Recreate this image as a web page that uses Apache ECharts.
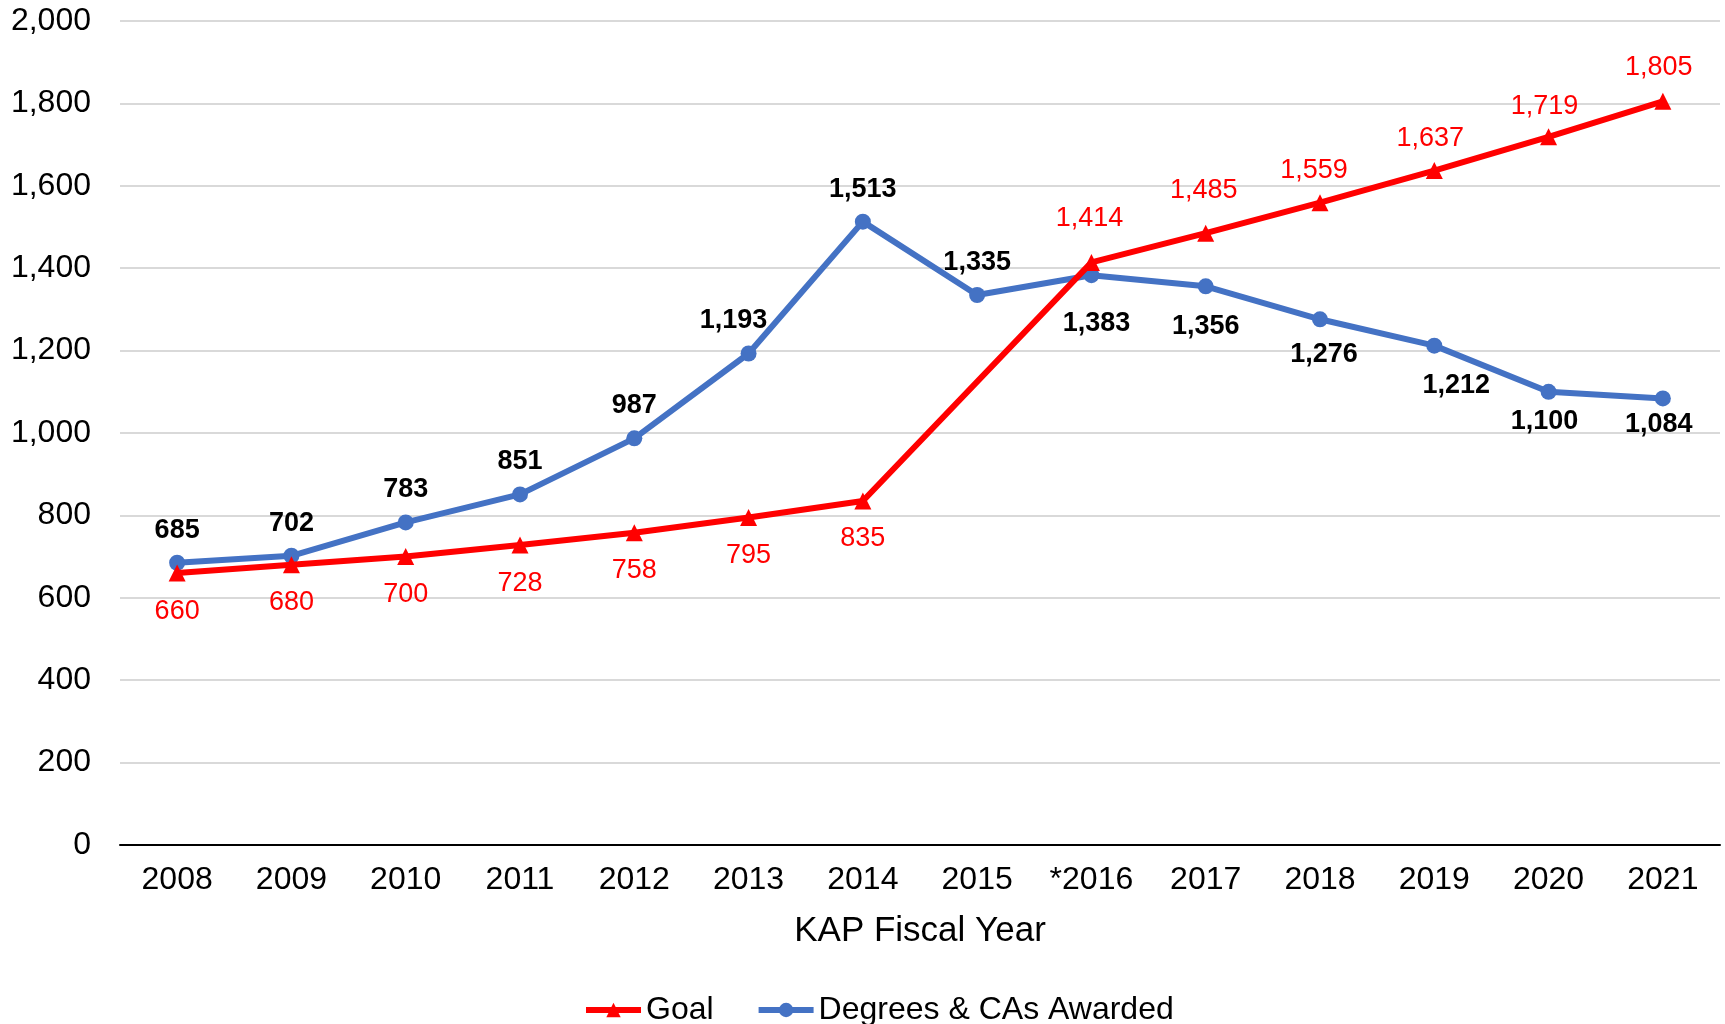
<!DOCTYPE html>
<html>
<head>
<meta charset="utf-8">
<script src="https://cdn.jsdelivr.net/npm/echarts@6/dist/echarts.min.js"></script>
<style>
  html, body { margin: 0; padding: 0; background: #fff; }
  #main { width: 1725px; height: 1024px; }
</style>
</head>
<body>
<div id="main"></div>
<script>
var years = ['2008', '2009', '2010', '2011', '2012', '2013', '2014', '2015', '*2016', '2017', '2018', '2019', '2020', '2021'];
// no goal value for 2015, line joins 2014 to 2016
var goal = [660, 680, 700, 728, 758, 795, 835, null, 1414, 1485, 1559, 1637, 1719, 1805];
var awarded = [685, 702, 783, 851, 987, 1193, 1513, 1335, 1383, 1356, 1276, 1212, 1100, 1084];
var yTicks = [0, 200, 400, 600, 800, 1000, 1200, 1400, 1600, 1800, 2000];

// label placement, hand-tuned like the original
var goalLabelGap = [16, 16, 16, 16, 16, 16, 16, 0, 22, 21, 10, 10, 8, 12];
var awardedLabelGap = [11, 11, 11, 11, 11, 11, 11, 11, 27, 19, 14, 18, 8, 5];
var awardedLabelDx = [0, 0, 0, 0, 0, -15, 0, 0, 5, 0, 4, 22, -4, -4];
var goalLabelDx = [0, 0, 0, 0, 0, 0, 0, 0, -2, -2, -6, -4, -4, -4];

var font = 'Liberation Sans, Arial, sans-serif';

function fmt(v) {
    return Number(v).toLocaleString('en-US');
}

// goal labels below up to 2014, above after; awarded the other way round
var goalData = goal.map(function (v, i) {
    return {value: v, label: {position: i < 7 ? 'bottom' : 'top', distance: goalLabelGap[i], offset: [goalLabelDx[i], 0]}};
});
var awardedData = awarded.map(function (v, i) {
    return {value: v, label: {position: i < 8 ? 'top' : 'bottom', distance: awardedLabelGap[i], offset: [awardedLabelDx[i], 0]}};
});

var myChart = echarts.init(document.getElementById('main'));

var option = {
    backgroundColor: '#fff',
    animation: false,
    grid: {left: 120, right: 5, top: 21, bottom: 179},
    legend: {
        left: 578,
        top: 989,
        itemWidth: 55,
        itemHeight: 18,
        itemGap: 42,
        lineStyle: {width: 6},
        textStyle: {fontFamily: font, fontSize: 32, color: '#000'},
        data: ['Goal', 'Degrees & CAs Awarded']
    },
    xAxis: {
        type: 'category',
        data: years,
        boundaryGap: true,
        name: 'KAP Fiscal Year',
        nameLocation: 'middle',
        nameGap: 69,
        nameTextStyle: {fontFamily: font, fontSize: 35, color: '#000'},
        axisLine: {lineStyle: {color: '#000', width: 2}},
        axisTick: {show: false},
        axisLabel: {fontFamily: font, fontSize: 32, color: '#000', margin: 19}
    },
    yAxis: {
        type: 'value',
        min: yTicks[0],
        max: yTicks[yTicks.length - 1],
        interval: 200,
        axisLine: {show: false},
        axisTick: {show: false},
        splitLine: {lineStyle: {color: '#d9d9d9', width: 2}},
        axisLabel: {
            fontFamily: font, fontSize: 32, color: '#000', margin: 29,
            formatter: function (v) { return fmt(v); }
        }
    },
    series: [
        {
            name: 'Goal',
            type: 'line',
            data: goalData,
            connectNulls: true,
            symbol: 'triangle',
            symbolSize: 17,
            itemStyle: {color: '#ff0000'},
            lineStyle: {color: '#ff0000', width: 6},
            label: {
                show: true,
                fontFamily: font,
                fontSize: 27,
                color: '#ff0000',
                formatter: function (p) { return fmt(p.value); }
            },
            z: 3
        },
        {
            name: 'Degrees & CAs Awarded',
            type: 'line',
            data: awardedData,
            symbol: 'circle',
            symbolSize: 16,
            itemStyle: {color: '#4472c4'},
            lineStyle: {color: '#4472c4', width: 6},
            label: {
                show: true,
                fontFamily: font,
                fontSize: 27,
                fontWeight: 'bold',
                color: '#000',
                formatter: function (p) { return fmt(p.value); }
            },
            z: 2
        }
    ]
};

myChart.setOption(option);
window.onresize = myChart.resize;
</script>
</body>
</html>
